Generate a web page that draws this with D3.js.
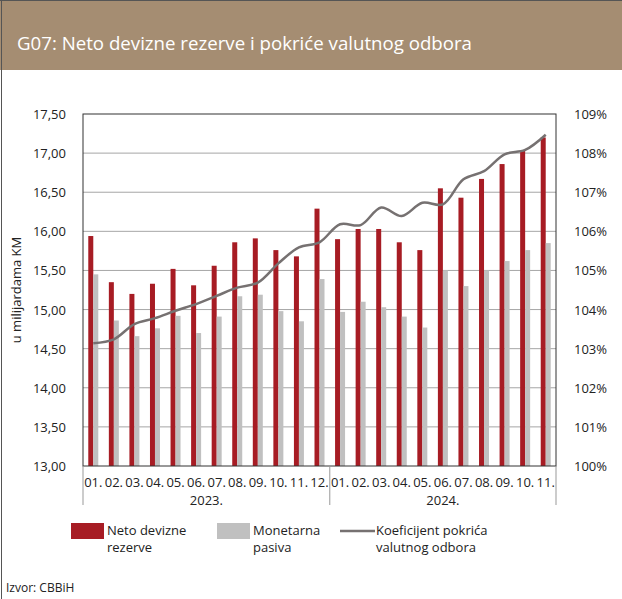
<!DOCTYPE html>
<html>
<head>
<meta charset="utf-8">
<script src="https://cdn.jsdelivr.net/npm/d3@7"></script>
<style>
  body { margin: 0; background: #fff; }
  text { font-family: "Open Sans", "Noto Sans", sans-serif; }
</style>
</head>
<body>
<svg id="chart"></svg>
<script>
// months of the two years
const months = ["01.","02.","03.","04.","05.","06.","07.","08.","09.","10.","11.","12.",
                "01.","02.","03.","04.","05.","06.","07.","08.","09.","10.","11."];
const years = [{label: "2023.", from: 0, to: 12}, {label: "2024.", from: 12, to: 23}];

// u milijardama KM
const netoRezerve = [15.94,15.35,15.20,15.33,15.52,15.31,15.56,15.86,15.91,15.76,15.68,16.29,
                     15.90,16.03,16.03,15.86,15.76,16.55,16.43,16.67,16.86,17.03,17.20];
const monetarnaPasiva = [15.45,14.86,14.66,14.76,14.92,14.70,14.91,15.17,15.19,14.98,14.85,15.39,
                         14.97,15.10,15.03,14.91,14.77,15.50,15.30,15.50,15.62,15.76,15.85];
// koeficijent pokrića, %
const koeficijent = [103.14,103.24,103.63,103.78,103.97,104.14,104.35,104.56,104.69,105.18,105.59,105.72,
                     106.18,106.16,106.61,106.39,106.73,106.69,107.33,107.54,107.97,108.08,108.47];

const leftTicks = [13,13.5,14,14.5,15,15.5,16,16.5,17,17.5];
const rightTicks = [100,101,102,103,104,105,106,107,108,109];

const W = 622, H = 599;
const margin = {top: 114, left: 83, right: 66, bottom: 133};
const width = W - margin.left - margin.right;
const height = H - margin.top - margin.bottom;

const svg = d3.select("#chart").attr("width", W).attr("height", H);

// header band
svg.append("rect").attr("x", 0).attr("y", 0).attr("width", W).attr("height", 70).attr("fill", "#a58d72");
svg.append("line").attr("x1", 0).attr("x2", W).attr("y1", 0.5).attr("y2", 0.5).attr("stroke", "#555");
svg.append("line").attr("x1", 1.5).attr("x2", 1.5).attr("y1", 0).attr("y2", H).attr("stroke", "#555");
svg.append("text")
  .attr("x", 17).attr("y", 50)
  .attr("fill", "#fff")
  .style("font-size", "18px")
  .attr("textLength", 455).attr("lengthAdjust", "spacingAndGlyphs")
  .text("G07: Neto devizne rezerve i pokriće valutnog odbora");

const g = svg.append("g").attr("transform", `translate(${margin.left},${margin.top})`);

const x = d3.scaleBand().domain(d3.range(months.length)).range([0, width]);
const barW = 5;
const y = d3.scaleLinear().domain([13, 17.5]).range([height, 0]);
const y2 = d3.scaleLinear().domain([100, 109]).range([height, 0]);

// gridlines
g.selectAll(".grid").data(leftTicks.slice(1, -1)).join("line")
  .attr("x1", 0).attr("x2", width)
  .attr("y1", d => y(d)).attr("y2", d => y(d))
  .attr("stroke", "#a6a6a6").attr("stroke-width", 1);

// bars
g.selectAll(".neto").data(netoRezerve).join("rect")
  .attr("x", (d, i) => x(i) + x.bandwidth() / 2 - barW)
  .attr("y", d => y(d))
  .attr("width", barW)
  .attr("height", d => height - y(d))
  .attr("fill", "#a71c24");
g.selectAll(".pasiva").data(monetarnaPasiva).join("rect")
  .attr("x", (d, i) => x(i) + x.bandwidth() / 2)
  .attr("y", d => y(d))
  .attr("width", barW)
  .attr("height", d => height - y(d))
  .attr("fill", "#c0c0c0");

// line
const line = d3.line()
  .x((d, i) => x(i) + x.bandwidth() / 2)
  .y(d => y2(d))
  .curve(d3.curveCatmullRom.alpha(0.5));
g.append("path").datum(koeficijent)
  .attr("d", line)
  .attr("fill", "none")
  .attr("stroke", "#767171")
  .attr("stroke-width", 2.5);

// plot frame
g.append("rect").attr("x", 0).attr("y", 0).attr("width", width).attr("height", height)
  .attr("fill", "none").attr("stroke", "#333").attr("stroke-width", 1);

// left axis labels
g.selectAll(".ly").data(leftTicks).join("text")
  .attr("x", -17).attr("y", d => y(d) + 5)
  .attr("text-anchor", "end")
  .style("font-size", "13px").attr("fill", "#222")
  .text(d => d3.format(".2f")(d).replace(".", ","));

// right axis labels
g.selectAll(".ry").data(rightTicks).join("text")
  .attr("x", width + 18).attr("y", d => y2(d) + 5)
  .style("font-size", "13px").attr("fill", "#222")
  .text(d => d + "%");

// y axis title
svg.append("text")
  .attr("transform", `translate(21,${margin.top + height / 2}) rotate(-90)`)
  .attr("text-anchor", "middle")
  .style("font-size", "13px").attr("fill", "#222")
  .text("u milijardama KM");

// x axis labels
g.selectAll(".mx").data(months).join("text")
  .attr("x", (d, i) => x(i) + x.bandwidth() / 2)
  .attr("y", height + 21)
  .attr("text-anchor", "middle")
  .style("font-size", "13px").attr("fill", "#222")
  .text(d => d);

const seps = [0, 12, 23];
g.selectAll(".sep").data(seps).join("line")
  .attr("x1", d => x.step() * d).attr("x2", d => x.step() * d)
  .attr("y1", height).attr("y2", height + 39)
  .attr("stroke", "#999");

g.selectAll(".yr").data(years).join("text")
  .attr("x", d => x.step() * (d.from + d.to) / 2)
  .attr("y", height + 39)
  .attr("text-anchor", "middle")
  .style("font-size", "13px").attr("fill", "#222")
  .text(d => d.label);

// legend
const legend = svg.append("g");
const items = [
  {type: "rect", color: "#a71c24", x: 71, lines: ["Neto devizne", "rezerve"]},
  {type: "rect", color: "#c0c0c0", x: 217, lines: ["Monetarna", "pasiva"]},
  {type: "line", color: "#767171", x: 340, lines: ["Koeficijent pokrića", "valutnog odbora"]}
];
items.forEach(it => {
  if (it.type === "rect") {
    legend.append("rect").attr("x", it.x).attr("y", 523).attr("width", 33).attr("height", 16).attr("fill", it.color);
  } else {
    legend.append("line").attr("x1", it.x).attr("x2", it.x + 35).attr("y1", 531).attr("y2", 531)
      .attr("stroke", it.color).attr("stroke-width", 2.5);
  }
  const t = legend.append("text").attr("x", it.x + 36).attr("y", 535)
    .style("font-size", "13px").attr("fill", "#222");
  it.lines.forEach((l, k) => {
    t.append("tspan").attr("x", it.x + 36).attr("dy", k === 0 ? 0 : 17).text(l);
  });
});

svg.append("text")
  .attr("x", 6).attr("y", 592)
  .style("font-size", "12px").attr("fill", "#222")
  .text("Izvor: CBBiH");
</script>
</body>
</html>
